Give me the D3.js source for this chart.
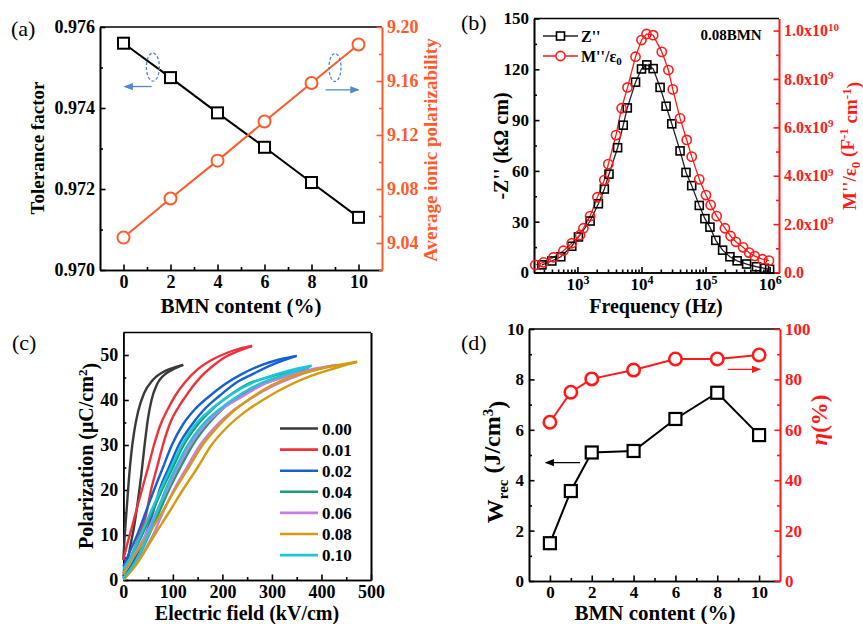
<!DOCTYPE html>
<html>
<head>
<meta charset="utf-8">
<script src="https://cdn.jsdelivr.net/npm/d3@7"></script>
<style>
  body { margin: 0; background: #fff; }
  svg text { font-family: "Liberation Serif", "Times New Roman", serif; font-weight: bold; }
</style>
</head>
<body>
<svg id="fig" width="863" height="624"></svg>
<script>
// ---- (a) tolerance factor / polarizability
const bmnA = [0, 2, 4, 6, 8, 10];
const tolerance = [0.9756, 0.97475, 0.97388, 0.97303, 0.97216, 0.9713];
const polarizability = [9.044, 9.073, 9.101, 9.130, 9.1585, 9.187];

// ---- (b) impedance / modulus spectra, 0.08BMN
const freqZ = [279, 398, 550, 815, 1037, 1578, 2124, 2630, 3110, 4240, 5190, 6000, 8070, 10000, 12130,
  15200, 19500, 24200, 29700, 40000, 49500, 60800, 79800, 97700, 117000, 144500, 184500, 240000,
  311000, 437000, 624000, 832000, 1000000];
const zImag = [4.5, 6.8, 9.3, 15.5, 21, 30.4, 40.6, 49.3, 58.1, 73.7, 87, 97.2, 112.4, 120.2, 122.6,
  120.4, 109.3, 98.2, 87.8, 71.8, 59.1, 51.3, 39.6, 31.8, 26.8, 19, 13.2, 9.3, 6.9, 5, 3.4, 2.5, 1.9];
const freqM = [220, 296, 424, 605, 815, 1101, 1240, 1578, 2048, 2630, 3035, 4000, 4887, 6055, 8070,
  10000, 11970, 15200, 20750, 26300, 30770, 40000, 50800, 60800, 79800, 101400, 120000, 149000,
  200400, 245500, 297000, 385500, 478600, 586000, 773000, 977000];
const mImag = [0.31, 0.42, 0.63, 0.90, 1.21, 1.55, 1.83, 2.33, 3.11, 3.82, 4.48, 5.68, 6.79, 7.65, 8.92,
  9.61, 9.86, 9.81, 9.12, 8.37, 7.57, 6.37, 5.48, 4.79, 3.85, 3.20, 2.79, 2.33, 1.83, 1.51, 1.27,
  1.04, 0.82, 0.68, 0.55, 0.49]; // x1e9

// ---- (c) P-E loops, [E (kV/cm), P (uC/cm2)]
const peLabels = ["0.00", "0.01", "0.02", "0.04", "0.06", "0.08", "0.10"];
const peColors = ["#3a3a3a", "#f0313b", "#1660d0", "#1b9e6e", "#c77de8", "#d49a10", "#1cc6d6"];
const peLower = [
  [[0,0.8],[8,4],[15,8],[22,12],[30,18],[37,24],[43,30],[50,36],[57,40],[68,43.5],[82,45.5],[100,46.8],[121,47.8]],
  [[0,1.5],[15,5],[33,10],[45,14],[56,20],[68,25],[80,30],[95,35],[112,38.5],[124,40.5],[140,43],[157,45.2],[180,47.5],[205,49.5],[230,50.8],[260,52]],
  [[0,0.5],[20,4],[45,10],[60,15],[73,20],[92,25],[112,30],[135,34],[160,37.5],[195,41],[230,44],[262,45.8],[300,47.8],[350,49.8]],
  [[0,0.3],[25,4],[52,10],[72,15],[92,20],[115,25],[140,30],[170,34.5],[200,38],[236,41],[280,43.5],[330,45.3],[375,46.8]],
  [[0,0.2],[28,4],[60,10],[80,15],[102,20],[128,25],[155,30],[185,34],[220,37.5],[260,40.5],[300,43],[350,45.3],[390,46.8],[430,47.8]],
  [[0,0],[30,4],[63,10],[92,15],[120,20],[150,25],[178,30],[210,34],[245,37.3],[286,40.3],[330,43],[380,45.4],[425,47],[472,48.5]],
  [[0,0.4],[24,4],[50,10],[68,15],[85,20],[106,25],[130,30],[160,34.5],[195,38],[240,41.5],[290,44.3],[330,45.8],[380,47.6]]
];
const peUpper = [
  [[0,4.5],[3,10],[7,16],[11,22],[16,28],[22,33],[30,37.5],[42,41.5],[60,44.5],[85,46.5],[105,47.3],[121,47.8]],
  [[0,4.4],[8,8],[18,12],[30,17],[40,21],[50,25],[62,30],[75,34.5],[90,38],[105,41],[125,44],[150,46.8],[180,49],[210,50.5],[235,51.4],[260,52]],
  [[0,3],[12,6],[28,10],[45,15],[62,20],[80,25],[98,30],[120,34.5],[145,38],[170,40.5],[205,43.5],[240,45.8],[280,47.8],[315,49],[350,49.8]],
  [[0,2],[15,5],[38,10],[58,15],[78,20],[100,25],[122,30],[150,34.5],[180,38],[208,40.5],[250,43.5],[290,45],[335,46.2],[375,46.8]],
  [[0,1.5],[18,5],[45,10],[66,15],[88,20],[110,25],[135,30],[165,34.5],[200,38],[236,40.5],[280,43.3],[320,45],[375,46.7],[430,47.8]],
  [[0,1.2],[20,5],[50,10],[78,15],[104,20],[132,25],[160,30],[190,34],[222,37.5],[256,40.3],[300,43.3],[340,45.2],[400,47],[472,48.5]],
  [[0,2.5],[14,5],[35,10],[55,15],[75,20],[96,25],[118,30],[145,34.5],[178,38],[215,41],[260,43.8],[300,45.4],[340,46.7],[380,47.6]]
];

// ---- (d) energy storage
const bmnD = [0, 1, 2, 4, 6, 8, 10];
const wrec = [1.5, 3.57, 5.1, 5.16, 6.43, 7.47, 5.79];
const eta = [63, 74.9, 80.2, 83.7, 88.1, 88.1, 89.7];

const orange = "#ff5a2a";
const red = "#ff1a1a";
const svg = d3.select("#fig");

const defs = svg.append("defs");
function arrowHead(id, color) {
  defs.append("marker").attr("id", id).attr("viewBox", "0 0 10 10")
    .attr("refX", 9).attr("refY", 5).attr("markerWidth", 7).attr("markerHeight", 7)
    .attr("orient", "auto-start-reverse")
    .append("path").attr("d", "M0,1L10,5L0,9Z").attr("fill", color);
}
arrowHead("arBlue", "#4f86cc");
arrowHead("arBlack", "#000");
arrowHead("arRed", red);

// axis with inward ticks + minor ticks
function axis(gen, scale, pos, major, minor, fmt, color, fs, vertical) {
  const g = svg.append("g")
    .attr("transform", vertical ? `translate(${pos},0)` : `translate(0,${pos})`);
  g.append("g").call(gen(scale).tickValues(minor).tickSize(-3).tickSizeOuter(0).tickFormat(""));
  g.append("g").attr("class", "major")
    .call(gen(scale).tickValues(major).tickSize(-5.5).tickSizeOuter(0).tickPadding(5).tickFormat(fmt));
  g.selectAll("path,line").attr("stroke", color).attr("stroke-width", 1.6);
  g.selectAll("text").attr("fill", color).attr("font-size", fs);
  return g;
}
function topLine(x0, x1, y) {
  svg.append("line").attr("x1", x0).attr("x2", x1).attr("y1", y).attr("y2", y)
    .attr("stroke", "#000").attr("stroke-width", 1.6);
}
function label(txt, x, y, fs, rot, color) {
  return svg.append("text").attr("transform", `translate(${x},${y}) rotate(${rot || 0})`)
    .attr("text-anchor", "middle").attr("font-size", fs).attr("fill", color || "#000").text(txt);
}
function panelTag(t, x, y) {
  svg.append("text").attr("x", x).attr("y", y).attr("font-size", 22)
    .style("font-weight", "normal").text(t);
}
function squares(data, x, y, size, sw, fill) {
  svg.append("g").selectAll("rect").data(data).join("rect")
    .attr("x", d => x(d[0]) - size / 2).attr("y", d => y(d[1]) - size / 2)
    .attr("width", size).attr("height", size)
    .attr("fill", fill).attr("stroke", "#000").attr("stroke-width", sw);
}
function circles(data, x, y, r, color, sw, fill) {
  svg.append("g").selectAll("circle").data(data).join("circle")
    .attr("cx", d => x(d[0])).attr("cy", d => y(d[1])).attr("r", r)
    .attr("fill", fill).attr("stroke", color).attr("stroke-width", sw);
}
function polyline(data, x, y, color, w) {
  svg.append("path").datum(data)
    .attr("d", d3.line().x(d => x(d[0])).y(d => y(d[1])))
    .attr("fill", "none").attr("stroke", color).attr("stroke-width", w);
}

// ================= (a)
{
  const x = d3.scaleLinear().domain([-1, 11]).range([100, 382]);
  const y = d3.scaleLinear().domain([0.970, 0.976]).range([270, 27]);
  const y2 = d3.scaleLinear().domain([9.02, 9.20]).range([270, 27]);
  topLine(100, 382, 27);
  axis(d3.axisBottom, x, 270, d3.range(0, 11, 2), d3.range(1, 11, 2), d3.format("d"), "#000", 18);
  axis(d3.axisLeft, y, 100, [0.970, 0.972, 0.974, 0.976], [0.971, 0.973, 0.975], d3.format(".3f"), "#000", 18, true);
  axis(d3.axisRight, y2, 382, [9.04, 9.08, 9.12, 9.16, 9.20], [9.02, 9.06, 9.10, 9.14, 9.18], d3.format(".2f"), orange, 18, true);

  const tol = bmnA.map((d, i) => [d, tolerance[i]]);
  const pol = bmnA.map((d, i) => [d, polarizability[i]]);
  polyline(tol, x, y, "#000", 2);
  polyline(pol, x, y2, orange, 2);
  squares(tol, x, y, 11, 2, "#fff");
  circles(pol, x, y2, 6, orange, 2, "#fff");

  // dashed ellipses and arrows
  svg.append("ellipse").attr("cx", x(1.25)).attr("cy", y(0.97501)).attr("rx", 6.5).attr("ry", 14)
    .attr("fill", "none").attr("stroke", "#4f86cc").attr("stroke-width", 1.3).attr("stroke-dasharray", "3,2");
  svg.append("line").attr("x1", x(1.2)).attr("x2", x(0.05)).attr("y1", y(0.97453)).attr("y2", y(0.97453))
    .attr("stroke", "#4f86cc").attr("stroke-width", 1.3).attr("marker-end", "url(#arBlue)");
  svg.append("ellipse").attr("cx", x(9.0)).attr("cy", y2(9.170)).attr("rx", 6).attr("ry", 14)
    .attr("fill", "none").attr("stroke", "#4f86cc").attr("stroke-width", 1.3).attr("stroke-dasharray", "3,2");
  svg.append("line").attr("x1", x(8.6)).attr("x2", x(10)).attr("y1", y2(9.1535)).attr("y2", y2(9.1535))
    .attr("stroke", "#4f86cc").attr("stroke-width", 1.3).attr("marker-end", "url(#arBlue)");

  label("BMN content (%)", 241, 313, 21);
  label("Tolerance factor", 44, 148, 19, -90);
  label("Average ionic polarizability", 437, 150, 19, -90, orange);
  panelTag("(a)", 11, 36);
}

// ================= (b)
{
  const x = d3.scaleLog().domain([210, 1.4e6]).range([534, 779]);
  const y = d3.scaleLinear().domain([0, 150]).range([272.5, 18.5]);
  const y2 = d3.scaleLinear().domain([0, 10.5]).range([272.5, 18.5]);
  topLine(534, 779, 18.5);
  const minorLog = [];
  [100, 1000, 10000, 100000].forEach(dec => d3.range(2, 10).forEach(k => {
    const v = dec * k; if (v > 210 && v < 1.4e6) minorLog.push(v);
  }));
  const gx = axis(d3.axisBottom, x, 272.5, [1e3, 1e4, 1e5, 1e6], minorLog, () => "10", "#000", 17);
  gx.selectAll(".major .tick text").each(function (d) {
    d3.select(this).append("tspan").attr("dy", "-0.5em").attr("font-size", 12).text(Math.round(Math.log10(d)));
  });
  axis(d3.axisLeft, y, 534, [0, 30, 60, 90, 120, 150], [15, 45, 75, 105, 135], d3.format("d"), "#000", 17, true);
  const gy2 = axis(d3.axisRight, y2, 779, [0, 2, 4, 6, 8, 10], [1, 3, 5, 7, 9],
    d => d === 0 ? "0.0" : (d === 10 ? "1.0" : d.toFixed(1)) + "x10", red, 16, true);
  gy2.selectAll(".major .tick text").filter(d => d > 0).each(function (d) {
    d3.select(this).append("tspan").attr("dy", "-0.5em").attr("font-size", 11).text(d === 10 ? "10" : "9");
  });

  const zs = freqZ.map((f, i) => [f, zImag[i]]);
  const ms = freqM.map((f, i) => [f, mImag[i]]);
  polyline(zs, x, y, "#222", 1.3);
  polyline(ms, x, y2, red, 1.3);
  squares(zs, x, y, 8, 1.6, "none");
  circles(ms, x, y2, 4.6, red, 1.6, "none");

  // legend
  const lg = svg.append("g");
  lg.append("line").attr("x1", 543).attr("x2", 578).attr("y1", 36).attr("y2", 36).attr("stroke", "#222").attr("stroke-width", 1.5);
  lg.append("rect").attr("x", 556.5).attr("y", 32).attr("width", 8).attr("height", 8).attr("fill", "#fff").attr("stroke", "#000").attr("stroke-width", 1.6);
  lg.append("text").attr("x", 581).attr("y", 41.5).attr("font-size", 16).text("Z''");
  lg.append("line").attr("x1", 543).attr("x2", 578).attr("y1", 56).attr("y2", 56).attr("stroke", red).attr("stroke-width", 1.5);
  lg.append("circle").attr("cx", 560.5).attr("cy", 56).attr("r", 4.6).attr("fill", "#fff").attr("stroke", red).attr("stroke-width", 1.6);
  const mt = lg.append("text").attr("x", 581).attr("y", 61.5).attr("font-size", 16).text("M''/ε");
  mt.append("tspan").attr("dy", "0.3em").attr("font-size", 11).text("0");
  svg.append("text").attr("x", 731).attr("y", 40).attr("text-anchor", "middle").attr("font-size", 15).text("0.08BMN");

  label("Frequency (Hz)", 656, 313, 20);
  label("-Z'' (kΩ cm)", 508, 146, 20, -90);
  const rt = svg.append("text").attr("transform", "translate(856,146) rotate(-90)")
    .attr("text-anchor", "middle").attr("font-size", 19).attr("fill", red);
  rt.append("tspan").text("M''/ε");
  rt.append("tspan").attr("dy", "0.3em").attr("font-size", 13).text("0");
  rt.append("tspan").attr("dy", "-0.3em").text(" (F");
  rt.append("tspan").attr("dy", "-0.5em").attr("font-size", 13).text("-1");
  rt.append("tspan").attr("dy", "0.5em").text(" cm");
  rt.append("tspan").attr("dy", "-0.5em").attr("font-size", 13).text("-1");
  rt.append("tspan").attr("dy", "0.5em").text(")");
  panelTag("(b)", 461, 30);
}

// ================= (c)
{
  const x = d3.scaleLinear().domain([0, 500]).range([123.3, 371]);
  const y = d3.scaleLinear().domain([0, 55]).range([580, 332.5]);
  topLine(123.3, 371, 332.5);
  axis(d3.axisBottom, x, 580, d3.range(0, 501, 100), d3.range(50, 500, 100), d3.format("d"), "#000", 18);
  axis(d3.axisLeft, y, 123.3, d3.range(0, 51, 10), d3.range(5, 55, 10), d3.format("d"), "#000", 18, true);
  axis(d3.axisRight, y, 371, [], [], () => "", "#000", 18, true);

  const line = d3.line().x(d => x(d[0])).y(d => y(d[1])).curve(d3.curveMonotoneX);
  peLabels.forEach((lab, i) => {
    [peLower[i], peUpper[i]].forEach(br => {
      svg.append("path").datum(br).attr("d", line)
        .attr("fill", "none").attr("stroke", peColors[i]).attr("stroke-width", 2.4);
    });
  });
  const lg = svg.append("g");
  peLabels.forEach((lab, i) => {
    const yy = 428.5 + i * 21.1;
    lg.append("line").attr("x1", 280).attr("x2", 318).attr("y1", yy).attr("y2", yy)
      .attr("stroke", peColors[i]).attr("stroke-width", 2.6);
    lg.append("text").attr("x", 322).attr("y", yy + 6).attr("font-size", 17).text(lab);
  });

  label("Electric field (kV/cm)", 247, 620, 20);
  const yt = svg.append("text").attr("transform", "translate(93,456) rotate(-90)")
    .attr("text-anchor", "middle").attr("font-size", 20);
  yt.append("tspan").text("Polarization (μC/cm");
  yt.append("tspan").attr("dy", "-0.5em").attr("font-size", 13).text("2");
  yt.append("tspan").attr("dy", "0.5em").text(")");
  panelTag("(c)", 12, 350);
}

// ================= (d)
{
  const x = d3.scaleLinear().domain([-1, 11]).range([529, 780]);
  const y = d3.scaleLinear().domain([0, 10]).range([581, 329]);
  const y2 = d3.scaleLinear().domain([0, 100]).range([581, 329]);
  topLine(529, 780, 329);
  axis(d3.axisBottom, x, 581, d3.range(0, 11, 2), d3.range(1, 11, 2), d3.format("d"), "#000", 17);
  axis(d3.axisLeft, y, 529, d3.range(0, 11, 2), d3.range(1, 10, 2), d3.format("d"), "#000", 17, true);
  axis(d3.axisRight, y2, 780, d3.range(0, 101, 20), d3.range(10, 100, 20), d3.format("d"), red, 17, true);

  const ws = bmnD.map((d, i) => [d, wrec[i]]);
  const es = bmnD.map((d, i) => [d, eta[i]]);
  polyline(ws, x, y, "#000", 2);
  polyline(es, x, y2, red, 2);
  squares(ws, x, y, 12, 2.2, "#fff");
  circles(es, x, y2, 6.2, red, 2.6, "#fff");

  svg.append("line").attr("x1", x(1.44)).attr("x2", x(-0.2)).attr("y1", y(4.7)).attr("y2", y(4.7))
    .attr("stroke", "#000").attr("stroke-width", 1.3).attr("marker-end", "url(#arBlack)");
  svg.append("line").attr("x1", x(8.5)).attr("x2", x(10.05)).attr("y1", y2(84)).attr("y2", y2(84))
    .attr("stroke", red).attr("stroke-width", 1.3).attr("marker-end", "url(#arRed)");

  label("BMN content (%)", 655, 620, 21);
  const wt = svg.append("text").attr("transform", "translate(503,462) rotate(-90)")
    .attr("text-anchor", "middle").attr("font-size", 24);
  wt.append("tspan").text("W");
  wt.append("tspan").attr("dy", "0.3em").attr("font-size", 15).text("rec");
  wt.append("tspan").attr("dy", "-0.3em").text(" (J/cm");
  wt.append("tspan").attr("dy", "-0.5em").attr("font-size", 15).text("3");
  wt.append("tspan").attr("dy", "0.5em").text(")");
  const et = svg.append("text").attr("transform", "translate(827,420) rotate(-90)")
    .attr("text-anchor", "middle").attr("font-size", 23).attr("fill", red);
  et.append("tspan").attr("font-style", "italic").text("η");
  et.append("tspan").text("(%)");
  panelTag("(d)", 461, 350);
}
</script>
</body>
</html>
